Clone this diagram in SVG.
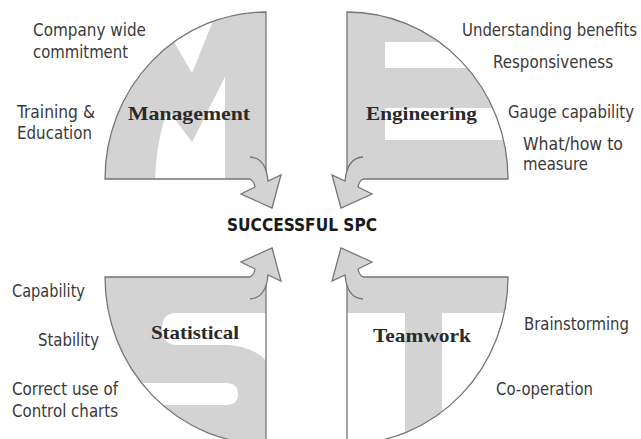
<svg xmlns="http://www.w3.org/2000/svg" xmlns:xlink="http://www.w3.org/1999/xlink" width="641" height="439" viewBox="0 0 641 439">
<style>
.bg{fill:#ffffff}
.g{fill:#d3d3d3}
.w{fill:#ffffff}
.outline{fill:none;stroke:#767676;stroke-width:1.3}
.arrow{fill:#d3d3d3;stroke:#767676;stroke-width:1.3;stroke-linejoin:miter}
.lbl{font-family:"DejaVu Sans Condensed","DejaVu Sans",sans-serif;font-size:17px;fill:#3a3a3a}
.q{font-family:"Liberation Serif","Times New Roman",serif;font-weight:bold;font-size:19px;fill:#2a2a2a}
.ctr{font-family:"DejaVu Sans Condensed","DejaVu Sans",sans-serif;font-weight:bold;font-size:17px;fill:#1a1a1a}
</style>
<defs>
<clipPath id="clipM"><path d="M266,179 L105,179 A161 167 0 0 1 266,12 Z"/></clipPath>
<clipPath id="clipE"><path d="M347,179 L508,179 A161 167 0 0 0 347,12 Z"/></clipPath>
<clipPath id="clipS"><path d="M266,277 L105,277 A161 167 0 0 0 266,444 Z"/></clipPath>
<clipPath id="clipT"><path d="M347,277 L508,277 A161 167 0 0 1 347,444 Z"/></clipPath>
<g id="frame">
<path class="arrow" d="M250,157 Q266,158 268,181 L281,175 L272,208 L241,194 L255,187 Q254,181 250,179"/>
<path class="outline" d="M250,179 L105,179 A161 167 0 0 1 266,12 L266,171"/>
</g>
</defs>
<rect class="bg" x="0" y="0" width="641" height="439"/>

<g id="management">
<g clip-path="url(#clipM)">
<rect class="g" x="100" y="10" width="170" height="172"/>
<polygon class="w" points="167,30 192,73 219.5,5"/>
<path class="w" d="M155,182 Q156,140 168,110 L192,142 L225,77 L225,182 Z"/>
</g>
<use xlink:href="#frame"/>
<text class="q" x="128" y="120" textLength="122" lengthAdjust="spacingAndGlyphs">Management</text>
</g>

<g id="engineering">
<g clip-path="url(#clipE)">
<rect class="g" x="345" y="10" width="170" height="172"/>
<rect class="w" x="385" y="42" width="130" height="26"/>
<rect class="w" x="385" y="108" width="130" height="32"/>
</g>
<use xlink:href="#frame" transform="translate(613,0) scale(-1,1)"/>
<text class="q" x="366" y="120" textLength="111" lengthAdjust="spacingAndGlyphs">Engineering</text>
</g>

<g id="statistical">
<g clip-path="url(#clipS)">
<rect class="g" x="100" y="275" width="170" height="170"/>
<path class="w" d="M267,313 L176,313 Q162,313 162,329 Q162,345 178,345 L228,345 Q255,347 267,362 Z"/>
<path class="w" d="M100,383 L226,383 Q238,383 238,394 Q238,405 226,405 L100,405 Z"/>
</g>
<use xlink:href="#frame" transform="translate(0,456) scale(1,-1)"/>
<text class="q" x="151" y="339" textLength="88" lengthAdjust="spacingAndGlyphs">Statistical</text>
</g>

<g id="teamwork">
<g clip-path="url(#clipT)">
<rect class="g" x="345" y="275" width="170" height="38"/>
<rect class="g" x="405" y="313" width="37" height="135"/>
</g>
<use xlink:href="#frame" transform="translate(613,456) scale(-1,-1)"/>
<text class="q" x="373" y="342" textLength="98" lengthAdjust="spacingAndGlyphs">Teamwork</text>
</g>

<g id="center">
<text class="ctr" x="227" y="231" textLength="150" lengthAdjust="spacingAndGlyphs">SUCCESSFUL SPC</text>
</g>

<g id="labels">
<text class="lbl" x="33" y="36" textLength="113" lengthAdjust="spacingAndGlyphs">Company wide</text>
<text class="lbl" x="33" y="57.5" textLength="95" lengthAdjust="spacingAndGlyphs">commitment</text>
<text class="lbl" x="17" y="118" textLength="78" lengthAdjust="spacingAndGlyphs">Training &amp;</text>
<text class="lbl" x="17" y="138.5" textLength="75" lengthAdjust="spacingAndGlyphs">Education</text>
<text class="lbl" x="462" y="36" textLength="175" lengthAdjust="spacingAndGlyphs">Understanding benefits</text>
<text class="lbl" x="493" y="68" textLength="120" lengthAdjust="spacingAndGlyphs">Responsiveness</text>
<text class="lbl" x="508" y="118" textLength="126" lengthAdjust="spacingAndGlyphs">Gauge capability</text>
<text class="lbl" x="523" y="150" textLength="100" lengthAdjust="spacingAndGlyphs">What/how to</text>
<text class="lbl" x="523" y="170" textLength="65" lengthAdjust="spacingAndGlyphs">measure</text>
<text class="lbl" x="12" y="297" textLength="73" lengthAdjust="spacingAndGlyphs">Capability</text>
<text class="lbl" x="38" y="346" textLength="61" lengthAdjust="spacingAndGlyphs">Stability</text>
<text class="lbl" x="12" y="395" textLength="106" lengthAdjust="spacingAndGlyphs">Correct use of</text>
<text class="lbl" x="12" y="416.5" textLength="106" lengthAdjust="spacingAndGlyphs">Control charts</text>
<text class="lbl" x="524" y="330" textLength="105" lengthAdjust="spacingAndGlyphs">Brainstorming</text>
<text class="lbl" x="496" y="395" textLength="97" lengthAdjust="spacingAndGlyphs">Co-operation</text>
</g>
</svg>
